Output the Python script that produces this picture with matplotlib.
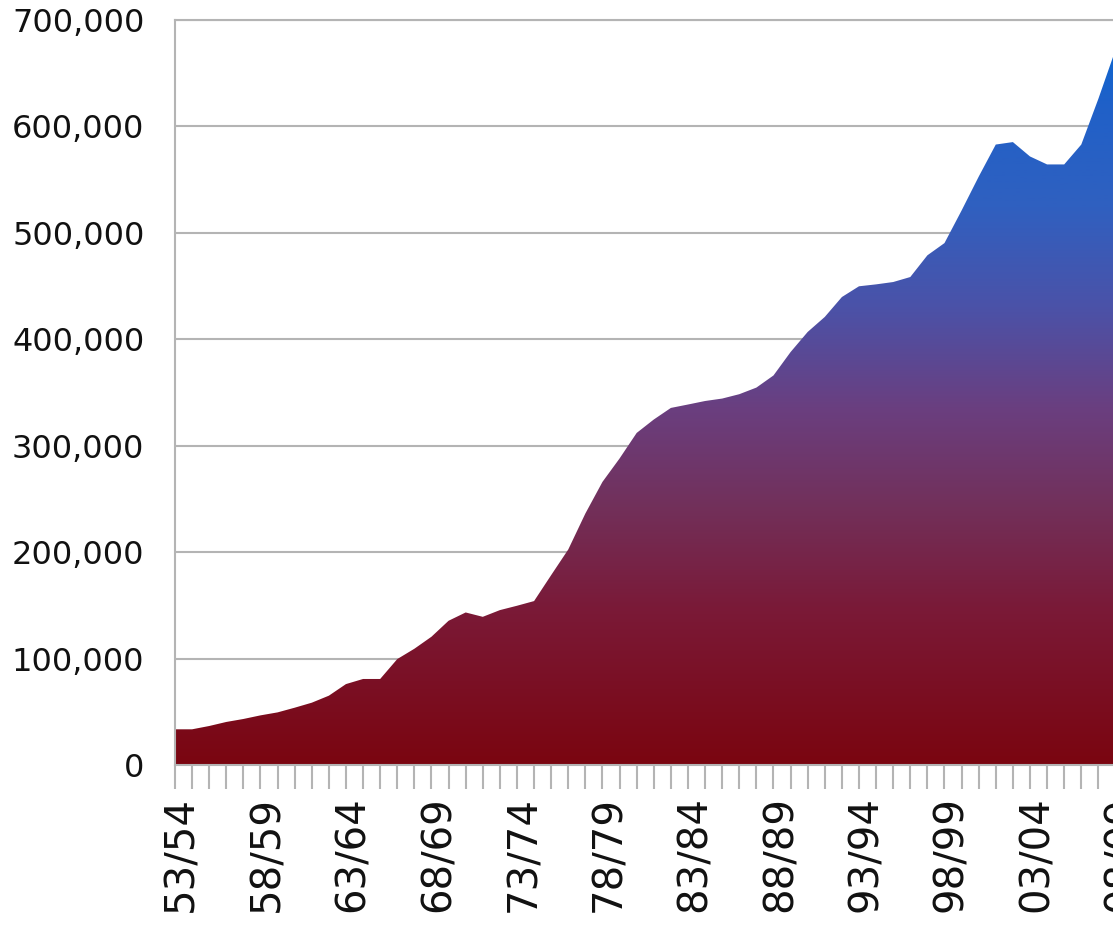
import numpy as np
import matplotlib
matplotlib.use("Agg")
import matplotlib.pyplot as plt
from matplotlib.colors import LinearSegmentedColormap
from matplotlib.ticker import FuncFormatter, MultipleLocator

# academic years 53/54 .. 08/09
years = [f"{y % 100:02d}/{(y + 1) % 100:02d}" for y in range(1953, 2009)]
values = [
    33500, 33500, 36600, 40400, 43200, 46600, 49400, 53800, 58500, 65100,
    76000, 80800, 80800, 99500, 109200, 120500, 135500, 143300, 139200, 145500,
    149600, 154000, 178400, 202500, 236300, 266000, 288000, 312000, 324600, 335500,
    338700, 342000, 344300, 348400, 354600, 366000, 388000, 406900, 421000, 439700,
    449800, 451600, 453800, 458500, 478900, 490400, 521000, 552800, 583000, 585300,
    571800, 564300, 564300, 583000, 626000, 672000,
]
label_every = 5

grad = LinearSegmentedColormap.from_list("redblue", [
    (0.00, "#7b0510"), (0.22, "#7a1a38"), (0.36, "#72305a"), (0.50, "#6a3f80"),
    (0.64, "#4b52a8"), (0.78, "#3060c0"), (0.92, "#2060c8"), (1.00, "#0f66d0"),
])

GRID = "#b4b4b4"
INK = "#111111"

fig = plt.figure(figsize=(11.13, 9.27), dpi=100)
fig.patch.set_facecolor("white")
# axes runs a little past the right edge, like the cropped original
ax = fig.add_axes([0.1572, 0.1748, 0.8604, 0.8036])

x = np.arange(len(values))
ymax = 700000

poly = ax.fill_between(x, 0, values, facecolor="none", edgecolor="none", zorder=2)
top = max(values)
img = ax.imshow(np.linspace(0, 1, 256).reshape(-1, 1), cmap=grad, aspect="auto",
                origin="lower", extent=[0, len(values) - 1, 0, top], zorder=2)
img.set_clip_path(poly.get_paths()[0], transform=ax.transData)
ax.set_xlim(0, 56)
ax.set_ylim(0, ymax)

ax.yaxis.set_major_locator(MultipleLocator(100000))
ax.yaxis.set_major_formatter(FuncFormatter(lambda v, _: f"{int(v):,}"))
ax.grid(axis="y", color=GRID, lw=1.5, zorder=0)
ax.set_axisbelow(True)
ax.tick_params(axis="y", length=0, pad=22, labelsize=23, labelcolor=INK)

ax.set_xticks(x, minor=True)
ax.set_xticks([])
ax.tick_params(axis="x", which="minor", direction="out", length=17, width=1.5, color=GRID)
for i in range(0, len(years), label_every):
    ax.text(i + 0.4, -29000, years[i], rotation=90, ha="center", va="top",
            fontsize=29, color=INK, clip_on=False)

for side in ("top", "left", "bottom"):
    ax.spines[side].set_color(GRID)
    ax.spines[side].set_linewidth(1.5)
ax.spines["right"].set_visible(False)

fig.savefig("out.png", dpi=100, facecolor="white")
